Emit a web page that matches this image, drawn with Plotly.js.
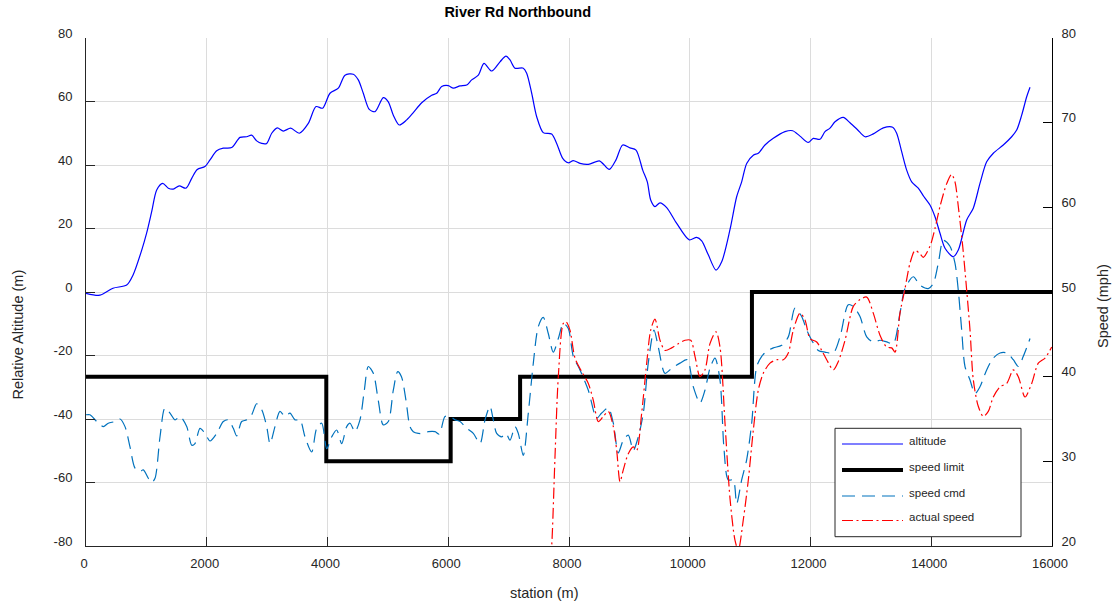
<!DOCTYPE html>
<html>
<head>
<meta charset="utf-8">
<script src="https://cdn.plot.ly/plotly-3.0.1.min.js"></script>
<style>html,body{margin:0;padding:0;background:#fff;}#chart{width:1116px;height:609px;}</style>
</head>
<body>
<div id="chart"></div>
<script>
// ---- data ----
const altStation = [0,232,447,674,778,923,1005,1088,1171,1270,
 1363,1446,1545,1656,1751,1843,1971,2054,2165,2274,
 2413,2551,2662,2744,2827,2910,2993,3076,3168,3268,
 3390,3533,3682,3810,3920,4041,4179,4290,4427,4510,
 4593,4692,4787,4924,5007,5090,5189,5312,5421,5560,
 5726,5809,5891,6001,6084,6195,6306,6388,6498,6592,
 6720,6857,6956,7023,7106,7243,7299,7382,7465,7574,
 7713,7796,7896,7988,8071,8182,8320,8502,8568,8667,
 8778,8889,9010,9110,9221,9297,9353,9424,9507,9618,
 9784,9993,10115,10198,10307,10435,10529,10667,10777,10860,
 10943,11053,11135,11246,11384,11577,11705,11826,11963,12046,
 12157,12240,12323,12406,12543,12654,12775,12903,13040,13206,
 13361,13427,13510,13593,13676,13785,13880,13979,14062,14145,
 14228,14365,14448,14587,14696,14807,14918,15028,15193,15332,
 15415,15498,15581,15636];
const altitude = [-0.4,-1.0,1.2,2.2,5.3,13.2,18.6,25.3,32.1,34.2,
 32.7,32.4,33.4,32.7,35.8,38.6,39.5,41.6,44.5,45.3,
 45.5,48.7,48.9,49.4,47.6,46.8,46.8,50.0,51.7,50.7,
 51.6,50.0,53.1,58.4,57.9,62.6,64.2,68.3,68.6,66.8,
 62.6,57.5,56.8,61.2,59.9,55.7,52.6,54.2,56.5,59.6,
 62.0,62.6,64.7,65.0,64.2,64.9,65.2,66.8,68.3,72.0,
 69.6,72.5,74.3,73.1,70.5,70.5,68.9,62.6,55.2,50.2,
 49.8,46.8,42.1,40.7,41.4,40.5,40.2,41.3,40.3,38.6,
 41.6,46.3,45.4,44.7,38.4,34.7,29.0,26.9,28.1,26.6,
 21.6,16.4,17.2,16.1,11.7,6.9,9.5,19.7,30.0,34.7,
 40.5,43.1,43.7,46.3,48.4,50.5,50.8,49.1,47.1,48.4,
 48.1,50.5,51.6,53.6,55.0,53.3,51.2,48.9,49.8,51.7,
 51.9,50.0,44.2,38.4,34.7,32.7,30.0,27.4,23.7,18.5,
 13.8,11.1,13.2,22.7,26.4,34.2,41.0,43.7,46.3,48.9,
 51.0,55.7,61.5,64.5];

const limitStation = [0,3980,6040,7190,11030,16000];
const speedLimit   = [40,30,35,40,50,50];

const cmdStation = [0,66,177,287,369,480,563,646,729,812,
 894,949,1032,1088,1143,1226,1308,1391,1474,1557,
 1668,1751,1805,1888,1971,2054,2165,2274,2357,2440,
 2496,2579,2662,2744,2827,2910,2993,3048,3130,3213,
 3296,3379,3462,3545,3627,3738,3821,3904,3987,4070,
 4152,4235,4318,4373,4455,4538,4610,4676,4759,4841,
 4924,5007,5090,5163,5225,5300,5366,5421,5504,5587,
 5670,5781,5852,5946,6029,6112,6195,6306,6415,6526,
 6609,6691,6746,6802,6885,6956,7023,7106,7160,7243,
 7326,7409,7491,7574,7657,7740,7823,7906,7988,8071,
 8182,8320,8459,8541,8651,8734,8816,8899,8982,9065,
 9148,9231,9313,9408,9479,9590,9701,9839,9959,10059,
 10170,10252,10335,10418,10501,10567,10638,10721,10777,10860,
 10943,11026,11109,11192,11274,11384,11523,11632,11743,11854,
 11937,12020,12129,12240,12378,12489,12626,12709,12820,12931,
 13040,13151,13262,13371,13482,13565,13703,13814,13951,14034,
 14117,14200,14310,14393,14448,14504,14559,14642,14725,14807,
 14918,15028,15139,15250,15359,15442,15525,15636];
const speedCmd = [35.5,35.5,34.7,34.1,34.5,34.7,35.0,34.1,31.7,29.2,
 28.8,29.0,28.0,27.5,28.0,32.9,36.3,35.7,34.9,35.3,
 34.1,31.9,32.1,33.9,33.3,32.4,33.3,34.7,34.9,33.9,
 33.0,34.7,34.9,35.5,36.8,36.1,34.1,32.1,34.1,35.9,
 35.3,35.7,34.9,34.9,32.9,31.1,33.9,34.5,31.5,32.9,
 33.7,32.1,34.1,34.5,33.5,34.9,38.4,41.2,40.4,37.2,
 34.3,34.7,38.4,40.6,40.0,37.2,34.1,33.5,33.3,33.3,
 33.5,33.5,33.2,35.3,35.3,34.9,34.7,33.9,33.3,32.1,
 34.9,36.5,34.9,33.3,32.9,33.3,32.5,34.1,33.3,30.7,
 35.7,41.6,45.9,47.0,45.1,42.9,44.5,46.3,45.7,42.4,
 40.8,38.4,35.1,35.7,36.3,34.5,31.0,32.5,33.1,31.3,
 32.9,35.7,41.6,45.5,43.5,40.4,41.0,41.6,42.0,38.8,
 36.9,38.4,41.0,42.2,39.6,31.5,27.8,27.8,25.0,27.8,
 30.2,34.5,41.2,42.4,43.0,43.4,43.7,44.7,48.1,47.1,
 45.5,44.3,43.1,42.9,42.8,44.7,48.5,48.3,47.1,44.7,
 44.1,44.3,44.1,43.9,47.5,50.4,51.8,50.8,50.4,51.0,
 53.4,56.1,55.4,53.4,50.2,45.5,41.2,39.6,38.0,38.8,
 40.8,42.2,42.8,42.8,42.0,41.2,42.4,44.5];

const actStation = [7690,7713,7768,7823,7906,7950,8016,8099,8210,8320,
 8403,8486,8568,8651,8734,8790,8845,8899,8982,9065,
 9121,9204,9287,9353,9424,9507,9590,9701,9810,9921,
 10016,10087,10170,10252,10335,10435,10501,10584,10667,10749,
 10804,10887,10970,11053,11135,11218,11329,11440,11549,11632,
 11715,11826,11909,11992,12103,12186,12268,12378,12461,12572,
 12709,12820,12931,13040,13151,13262,13345,13400,13482,13565,
 13648,13731,13814,13868,13979,14062,14145,14256,14338,14393,
 14448,14521,14587,14642,14697,14779,14862,14945,15028,15139,
 15250,15359,15442,15553,15664,15773,15884,15995];
const actualSpeed = [18.5,20.0,30.5,40.0,46.3,46.5,45.5,42.2,40.6,39.2,
 37.2,34.7,35.3,35.9,34.1,31.3,27.6,29.0,30.9,31.7,
 31.3,35.7,41.6,45.5,46.8,44.3,43.1,43.4,43.9,44.3,
 44.3,42.4,40.0,40.8,43.9,45.3,43.5,34.5,25.6,20.7,
 19.5,23.1,27.8,33.7,38.4,40.4,41.6,42.0,42.0,42.8,
 45.5,47.5,46.7,44.5,44.1,43.1,42.0,40.8,41.8,44.3,
 48.3,49.1,49.4,47.5,44.9,43.5,43.4,42.9,47.5,50.4,
 53.4,54.9,54.5,54.1,55.4,57.5,60.1,62.8,63.9,63.0,
 60.1,55.4,50.2,45.5,39.6,36.5,35.3,35.9,37.6,38.8,
 39.2,40.8,40.0,37.6,39.2,41.6,42.2,43.5];

const xTicks = [0,2000,4000,6000,8000,10000,12000,14000,16000];
const xTickText = ['0','2000','4000','6000','8000','10000','12000','14000','16000'];
const altTicks = [-80,-60,-40,-20,0,20,40,60,80];
const altTickText = ['-80','-60','-40','-20','0','20','40','60','80'];
const speedTicks = [20,30,40,50,60,70,80];
const speedTickText = ['20','30','40','50','60','70','80'];

const seriesNames = ['altitude','speed limit','speed cmd','actual speed'];

// ---- styles ----
const C_ALT = '#0000ff', C_LIM = '#000000', C_CMD = '#0072bd', C_ACT = '#ff0000';
const DASH_CMD = '13px,7px';
const DASH_ACT = '11px,3.5px,2px,3.5px';
const FONT = 'Liberation Sans, Arial, Helvetica, sans-serif';
const AX = '#262626', GRID = '#dcdcdc';

const traces = [
  {x: altStation, y: altitude, name: seriesNames[0], type:'scatter', mode:'lines', yaxis:'y',
   line:{color:C_ALT, width:1.2, shape:'spline', smoothing:0.8}},
  {x: limitStation, y: speedLimit, name: seriesNames[1], type:'scatter', mode:'lines', yaxis:'y2',
   line:{color:C_LIM, width:4, shape:'hv'}},
  {x: cmdStation, y: speedCmd, name: seriesNames[2], type:'scatter', mode:'lines', yaxis:'y2',
   line:{color:C_CMD, width:1.2, dash:DASH_CMD, shape:'spline', smoothing:0.8}},
  {x: actStation, y: actualSpeed, name: seriesNames[3], type:'scatter', mode:'lines', yaxis:'y2',
   line:{color:C_ACT, width:1.2, dash:DASH_ACT, shape:'spline', smoothing:0.8}}
];

// plot area in pixels: left 86, right 1052, top 38, bottom 546
const L = 86, R = 1052, T = 38, B = 546, W = 1116, H = 609;
const px = v => (v - L) / (R - L);
const py = v => (B - v) / (B - T);

// custom legend (box + samples + labels)
const legLines = [444, 470, 496, 520.5];
const legStyles = [
  {color:C_ALT, width:1.2},
  {color:C_LIM, width:4},
  {color:C_CMD, width:1.2, dash:DASH_CMD},
  {color:C_ACT, width:1.2, dash:DASH_ACT}
];
const shapes = [{type:'rect', xref:'paper', yref:'paper', layer:'above',
  x0:px(835), x1:px(1021), y0:py(536.7), y1:py(428.3),
  fillcolor:'#ffffff', line:{color:AX, width:1}}];
const annotations = [];
legLines.forEach((ly, i) => {
  shapes.push({type:'line', xref:'paper', yref:'paper', layer:'above',
    x0:px(842), x1:px(903), y0:py(ly), y1:py(ly), line:legStyles[i]});
  annotations.push({text:seriesNames[i], xref:'paper', yref:'paper', x:px(907), y:py(ly-3.5),
    xanchor:'left', yanchor:'middle', showarrow:false, font:{family:FONT, size:11.5, color:AX}});
});
// axis titles
annotations.push({text:'station (m)', xref:'paper', yref:'paper', x:px(544), y:py(593),
  xanchor:'center', yanchor:'middle', showarrow:false, font:{family:FONT, size:14.5, color:AX}});
annotations.push({text:'Relative Altitude (m)', xref:'paper', yref:'paper', x:px(17.5), y:py(335),
  xanchor:'center', yanchor:'middle', textangle:-90, showarrow:false, font:{family:FONT, size:14.5, color:AX}});
annotations.push({text:'Speed (mph)', xref:'paper', yref:'paper', x:px(1103), y:py(306),
  xanchor:'center', yanchor:'middle', textangle:-90, showarrow:false, font:{family:FONT, size:14.5, color:AX}});

const layout = {
  width:W, height:H,
  margin:{l:L, r:W-R, t:T, b:H-B, pad:0},
  paper_bgcolor:'#ffffff', plot_bgcolor:'#ffffff',
  font:{family:FONT, size:13, color:AX},
  showlegend:false,
  title:{text:'River Rd Northbound', font:{family:FONT, size:14.5, weight:'bold', color:'#000000'},
    x:px(517.7), xref:'paper', xanchor:'center', y:1-12/H, yref:'container', yanchor:'middle'},
  xaxis:{range:[0,16000], tickmode:'array', tickvals:xTicks, ticktext:xTickText,
    ticks:'inside', ticklen:9, tickwidth:1, tickcolor:AX,
    showline:true, linecolor:AX, linewidth:1, mirror:false,
    showgrid:true, gridcolor:GRID, gridwidth:1, zeroline:false,
    ticklabelstandoff:5, ticklabelshift:-2},
  yaxis:{range:[-80,80], tickmode:'array', tickvals:altTicks, ticktext:altTickText,
    ticks:'inside', ticklen:9, tickwidth:1, tickcolor:AX,
    showline:true, linecolor:AX, linewidth:1,
    showgrid:true, gridcolor:GRID, gridwidth:1, zeroline:false,
    ticklabelstandoff:10, ticklabelshift:-5},
  yaxis2:{range:[20,80], tickmode:'array', tickvals:speedTicks, ticktext:speedTickText,
    overlaying:'y', side:'right', anchor:'x',
    ticks:'inside', ticklen:9, tickwidth:1, tickcolor:'#000000',
    showline:true, linecolor:'#000000', linewidth:1,
    showgrid:false, zeroline:false, ticklabelstandoff:6, ticklabelshift:-5},
  shapes: shapes,
  annotations: annotations
};

Plotly.newPlot('chart', traces, layout, {displayModeBar:false, staticPlot:true});
</script>
</body>
</html>
